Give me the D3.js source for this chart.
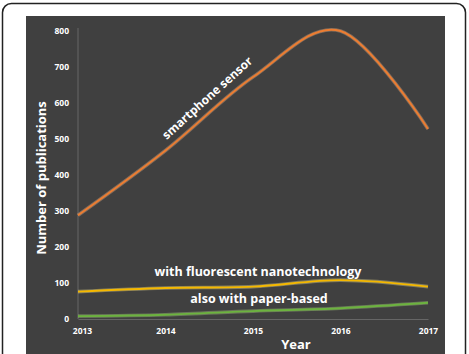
<!DOCTYPE html>
<meta charset="utf-8">
<style>
body { margin: 0; background: #fff; }
text { font-family: "Open Sans", sans-serif; font-weight: bold; fill: #fff; }
</style>
<script src="https://d3js.org/d3.v7.min.js"></script>
<div id="chart"></div>
<script>
// data
var years = [2013, 2014, 2015, 2016, 2017];
var smartphone = [288, 468, 672, 800, 528];
var fluorescent = [76, 86, 90, 108, 90];
var paperBased = [8, 12, 22, 30, 45];
var yTicks = [0, 100, 200, 300, 400, 500, 600, 700, 800];

var W = 469, H = 354;
var svg = d3.select("#chart").append("svg")
    .attr("width", W).attr("height", H);

// outer frame and dark panel
svg.append("rect")
    .attr("x", 2.5).attr("y", 3.5).attr("width", 463).attr("height", 370)
    .attr("rx", 9).attr("fill", "#fff").attr("stroke", "#222").attr("stroke-width", 1.5);
svg.append("rect")
    .attr("x", 26).attr("y", 16).attr("width", 419).attr("height", 340)
    .attr("fill", "#404040");

var x = d3.scalePoint().domain(years).range([78, 428]);
var y = d3.scaleLinear().domain([0, 800]).range([319, 31]);

// axes
var yAxis = svg.append("g").attr("transform", "translate(78,0)")
    .call(d3.axisLeft(y).tickValues(yTicks).tickSize(0).tickPadding(9));
yAxis.select(".domain").attr("stroke", "#666").attr("d", "M0,28V319");
yAxis.selectAll("text").style("font-size", "8.5px").attr("fill", "#fff");

var xAxis = svg.append("g").attr("transform", "translate(0,319)")
    .call(d3.axisBottom(x).tickSize(0).tickPadding(9).tickFormat(d3.format("d")));
xAxis.select(".domain").attr("stroke", "#666");
xAxis.selectAll("text").style("font-size", "8.5px").attr("fill", "#fff")
    .attr("dx", function(d, i) { return i == 0 ? 4 : 0; });

svg.append("text").attr("x", 296).attr("y", 349)
    .attr("text-anchor", "middle").style("font-size", "13px").text("Year");
svg.append("text")
    .attr("transform", "translate(46,178) rotate(-90)")
    .attr("text-anchor", "middle").style("font-size", "13px")
    .text("Number of publications");

var line = d3.line()
    .x(function(d, i) { return x(years[i]); })
    .y(function(d) { return y(d); })
    .curve(d3.curveCardinal.tension(0));

var series = [
  {values: paperBased, color: "#6cb33f", glow: "#b8e08a"},
  {values: fluorescent, color: "#f5b800", glow: "#fff09a"},
  {values: smartphone, color: "#ed7d31", glow: "#ffc090"}
];
series.forEach(function(s) {
  svg.append("path").datum(s.values)
      .attr("d", line).attr("fill", "none")
      .attr("stroke", s.glow).attr("stroke-opacity", 0.35)
      .attr("stroke-width", 3.6);
  svg.append("path").datum(s.values)
      .attr("d", line).attr("fill", "none")
      .attr("stroke", s.color).attr("stroke-width", 1.9);
});

// series labels
svg.append("text")
    .attr("transform", "translate(210,101) rotate(-42)")
    .attr("text-anchor", "middle").style("font-size", "12px")
    .text("smartphone sensor");
svg.append("text").attr("x", 258).attr("y", 276)
    .attr("text-anchor", "middle").style("font-size", "12.5px")
    .text("with fluorescent nanotechnology");
svg.append("text").attr("x", 259).attr("y", 303)
    .attr("text-anchor", "middle").style("font-size", "12.5px")
    .text("also with paper-based");
</script>
